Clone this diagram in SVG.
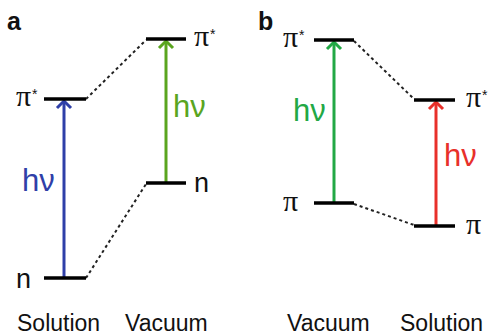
<svg xmlns="http://www.w3.org/2000/svg" width="490" height="336" viewBox="0 0 490 336">
<style>
.lvl{stroke:#000;stroke-width:3.5;fill:none}
.dash{stroke:#222;stroke-width:2;stroke-dasharray:3 3;fill:none}
.arr{stroke-width:3;fill:none}
.pi{font-family:"Liberation Serif",serif;font-size:30px;fill:#111}
.st{font-family:"Liberation Sans",sans-serif;font-size:14px;fill:#111}
.n{font-family:"Liberation Sans",sans-serif;font-size:27px;fill:#111}
.hv{font-family:"Liberation Sans",sans-serif;font-size:31px}
.lab{font-family:"Liberation Sans",sans-serif;font-size:23px;fill:#111}
.panel{font-family:"Liberation Sans",sans-serif;font-size:25px;font-weight:bold;fill:#111}
</style>
<rect width="490" height="336" fill="#fff"/>
<text class="panel" x="7" y="30">a</text>
<text class="panel" x="258" y="30">b</text>
<g id="connectors">
<line class="dash" x1="86" y1="99" x2="146" y2="40"/>
<line class="dash" x1="86" y1="278" x2="146" y2="184"/>
<line class="dash" x1="354" y1="41" x2="414" y2="99"/>
<line class="dash" x1="354" y1="204" x2="414" y2="225"/>
<g id="arrow-a-blue" stroke="#2f3fa8">
<line class="arr" x1="64" y1="278" x2="64" y2="101"/>
<polyline class="arr" points="57,108 64,101 71,108"/>
</g>
<g id="arrow-a-green" stroke="#5aa51f">
<line class="arr" x1="166" y1="183" x2="166" y2="41"/>
<polyline class="arr" points="159,48 166,41 173,48"/>
</g>
<g id="arrow-b-green" stroke="#22a845">
<line class="arr" x1="334" y1="203" x2="334" y2="42"/>
<polyline class="arr" points="327,49 334,42 341,49"/>
</g>
<g id="arrow-b-red" stroke="#e8302a">
<line class="arr" x1="436" y1="226" x2="436" y2="102"/>
<polyline class="arr" points="429,109 436,102 443,109"/>
</g>
</g>
<g id="a-sol-pistar"><line class="lvl" x1="44" y1="99" x2="86" y2="99"/><text class="pi" x="16" y="106">π</text><text class="st" x="32" y="99">*</text></g>
<g id="a-sol-n"><line class="lvl" x1="44" y1="278" x2="86" y2="278"/><text class="n" x="16" y="288">n</text></g>
<g id="a-vac-pistar"><line class="lvl" x1="146" y1="39" x2="186" y2="39"/><text class="pi" x="194" y="46">π</text><text class="st" x="210" y="39">*</text></g>
<g id="a-vac-n"><line class="lvl" x1="146" y1="183" x2="186" y2="183"/><text class="n" x="194" y="192">n</text></g>
<g id="b-vac-pistar"><line class="lvl" x1="314" y1="40" x2="354" y2="40"/><text class="pi" x="283" y="47">π</text><text class="st" x="299" y="40">*</text></g>
<g id="b-vac-pi"><line class="lvl" x1="314" y1="203" x2="354" y2="203"/><text class="pi" x="283" y="211">π</text></g>
<g id="b-sol-pistar"><line class="lvl" x1="414" y1="100" x2="455" y2="100"/><text class="pi" x="466" y="107">π</text><text class="st" x="482" y="100">*</text></g>
<g id="b-sol-pi"><line class="lvl" x1="414" y1="226" x2="455" y2="226"/><text class="pi" x="466" y="234">π</text></g>
<text class="hv" x="22" y="191" fill="#2f3fa8">hν</text>
<text class="hv" x="173" y="117" fill="#5aa51f">hν</text>
<text class="hv" x="293" y="121" fill="#22a845">hν</text>
<text class="hv" x="444" y="166" fill="#e8302a">hν</text>
<text class="lab" x="17" y="331">Solution</text>
<text class="lab" x="125" y="331">Vacuum</text>
<text class="lab" x="287" y="331">Vacuum</text>
<text class="lab" x="400" y="331">Solution</text>
</svg>
